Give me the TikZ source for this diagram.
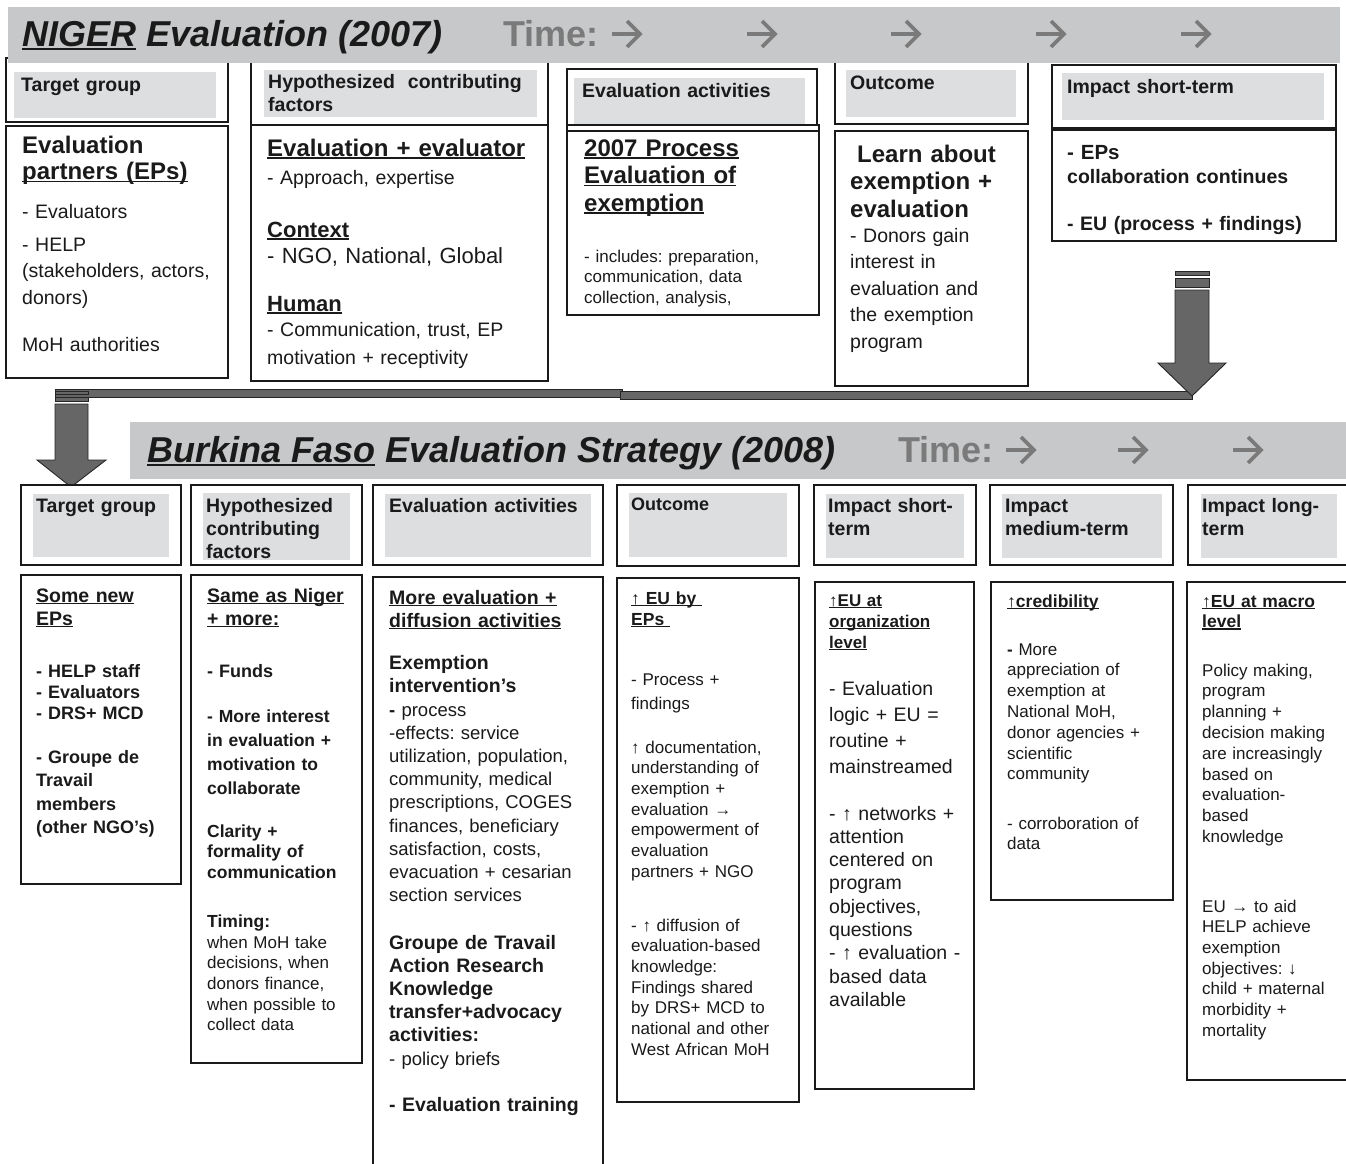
\documentclass[tikz,border=0pt]{standalone}
\usepackage{fontspec}
\setmainfont{Liberation Sans}
\definecolor{bannergray}{RGB}{199,200,201}
\definecolor{hdrgray}{RGB}{221,222,224}
\definecolor{timegray}{RGB}{122,122,122}
\definecolor{arrowfill}{RGB}{102,102,102}
\definecolor{ink}{RGB}{26,26,26}
\newsavebox\ulbox
\newcommand\ulx[1]{\leavevmode\sbox\ulbox{#1}\rlap{\rule[-0.12em]{\wd\ulbox}{0.075em}}\usebox\ulbox}
\newcommand\fsz[2]{\fontsize{#1}{#2}\selectfont}
\frenchspacing
\begin{document}
\begin{tikzpicture}[x=1pt,y=-1pt,
  txt/.style={anchor=base west, inner sep=0pt, text width=330pt, align=left, text=ink},
  box/.style={draw=ink, line width=1.4pt, fill=white},
  hgray/.style={fill=hdrgray},
  banner/.style={fill=bannergray},
  title/.style={anchor=base west, inner sep=0pt, text=ink, font=\fsz{36}{40}\bfseries\itshape},
  timetxt/.style={anchor=base west, inner sep=0pt, text=timegray, font=\fsz{36}{40}\bfseries},
  timearrow/.style={draw=timegray, line width=3.8pt, line join=miter, line cap=butt},
  blockarrow/.style={fill=arrowfill, draw=black!85, line width=0.9pt, line join=miter},
  hdr/.style={txt, font=\fsz{19.5}{23}\bfseries},
]
\useasboundingbox[fill=white] (0,0) rectangle (1346,1163);

% ---------------- NIGER: header boxes ----------------
\draw[box] (6,58) rectangle (228,122);      \fill[hgray] (14,72) rectangle (216,118);
\draw[box] (251,58) rectangle (548,125);    \fill[hgray] (264,70) rectangle (537,117);
\draw[box] (567,69) rectangle (817,131);    \fill[hgray] (574,78) rectangle (805,125);
\draw[box] (835,58) rectangle (1028,124);   \fill[hgray] (846,70) rectangle (1016,117);
\draw[box] (1052,65) rectangle (1336,128);  \fill[hgray] (1062,73) rectangle (1324,120);

% NIGER: body boxes
\draw[box] (6,126) rectangle (228,378);
\draw[box] (251,125) rectangle (548,381);
\draw[box] (567,125) rectangle (819,315);
\draw[ink, line width=1.4pt] (567,131) -- (819,131);
\draw[box] (835,131) rectangle (1028,386);
\draw[box] (1052,130) rectangle (1336,241);

% NIGER banner
\fill[banner] (8,7) rectangle (1340,63);
\node[title] (ntitle) at (22,46) {\ulx{NIGER} Evaluation (2007)};
\node[timetxt] (ntime) at (503,46) {Time:};
% time arrows (open chevron heads)
\foreach \cx in {626,761,905,1050,1195}{
  \draw[timearrow] (\cx-14,34) -- (\cx+13,34);
  \draw[timearrow] (\cx+1,21) -- (\cx+14,34) -- (\cx+1,47);
}

% NIGER header texts
\node[hdr] (nh1) at (21,91) {Target group};
\node[hdr] (nh2) at (268,88) {Hypothesized\ \ contributing\\factors};
\node[hdr] (nh3) at (582,97) {Evaluation activities};
\node[hdr] (nh4) at (850,89) {Outcome};
\node[hdr] (nh5) at (1067,93) {Impact short-term};

% NIGER body texts
\node[txt, font=\fsz{24}{26.5}\bfseries] (n1a) at (22,153) {Evaluation\\\ulx{partners (EPs)}};
\node[txt, font=\fsz{19.5}{26.5}] (n1b) at (22,218) {- Evaluators};
\node[txt, font=\fsz{19.5}{26.5}] (n1c) at (22,251) {- HELP\\(stakeholders, actors,\\donors)};
\node[txt, font=\fsz{19.5}{26.5}] (n1d) at (22,351) {MoH authorities};

\node[txt, font=\fsz{24}{26}\bfseries] (n2a) at (267,156) {\ulx{Evaluation + evaluator}};
\node[txt, font=\fsz{19.5}{26}] (n2b) at (267,184) {- Approach, expertise};
\node[txt, font=\fsz{22}{26}\bfseries] (n2c) at (267,237) {\ulx{Context}};
\node[txt, font=\fsz{22}{26}] (n2d) at (267,263) {- NGO, National, Global};
\node[txt, font=\fsz{22}{26}\bfseries] (n2e) at (267,311) {\ulx{Human}};
\node[txt, font=\fsz{19.5}{28}] (n2f) at (267,336) {- Communication, trust, EP\\motivation + receptivity};

\node[txt, font=\fsz{24}{27.5}\bfseries] (n3a) at (584,156) {\ulx{2007 Process}\\\ulx{Evaluation of}\\\ulx{exemption}};
\node[txt, font=\fsz{17}{20.5}] (n3b) at (584,262) {- includes: preparation,\\communication, data\\collection, analysis,};

\node[txt, font=\fsz{24}{27.5}\bfseries] (n4a) at (850,162) {\hspace{7pt}Learn about\\exemption +\\evaluation};
\node[txt, font=\fsz{19.5}{26.5}] (n4b) at (850,242) {- Donors gain\\interest in\\evaluation and\\the exemption\\program};

\node[txt, font=\fsz{20.5}{24}\bfseries] (n5a) at (1067,159) {- EPs};
\node[txt, font=\fsz{19.5}{24}\bfseries] (n5b) at (1067,183) {collaboration continues};
\node[txt, font=\fsz{19.5}{24}\bfseries] (n5c) at (1067,230) {- EU (process + findings)};

% ---------------- transfer block arrows ----------------
\fill[blockarrow] (55,389) rectangle (622,397);
\fill[blockarrow] (620,391) rectangle (1192,399);
\fill[blockarrow] (1175,271) rectangle (1209,275);
\fill[blockarrow] (1175,278) rectangle (1209,287);
\fill[blockarrow] (1175,290) -- (1209,290) -- (1209,363) -- (1226,363) -- (1192,396)
  -- (1158,363) -- (1175,363) -- cycle;
\fill[blockarrow] (55,391) rectangle (88,394);
\fill[blockarrow] (55,397) rectangle (88,401);
\fill[blockarrow] (55,404) -- (88,404) -- (88,460) -- (106,460) -- (71,487)
  -- (37,460) -- (55,460) -- cycle;

% ---------------- BURKINA FASO banner ----------------
\fill[banner] (130,422) rectangle (1350,479);
\node[title] (btitle) at (147,462) {\ulx{Burkina Faso} Evaluation Strategy (2008)};
\node[timetxt] (btime) at (898,462) {Time:};
\foreach \cx in {1020,1132,1247}{
  \draw[timearrow] (\cx-14,450) -- (\cx+13,450);
  \draw[timearrow] (\cx+1,437) -- (\cx+14,450) -- (\cx+1,463);
}

% BURKINA header boxes
\draw[box] (21,485) rectangle (181,565);    \fill[hgray] (33,494) rectangle (169,557);
\draw[box] (191,485) rectangle (362,565);   \fill[hgray] (203,493) rectangle (350,560);
\draw[box] (373,485) rectangle (603,565);   \fill[hgray] (385,494) rectangle (591,557);
\draw[box] (617,485) rectangle (799,566);   \fill[hgray] (629,493) rectangle (787,557);
\draw[box] (814,485) rectangle (976,565);   \fill[hgray] (826,494) rectangle (964,558);
\draw[box] (990,485) rectangle (1173,565);  \fill[hgray] (1002,494) rectangle (1162,558);
\draw[box] (1188,485) rectangle (1352,565); \fill[hgray] (1201,494) rectangle (1337,558);

\node[hdr] (bh1) at (36,512) {Target group};
\node[hdr] (bh2) at (206,512) {Hypothesized\\contributing\\factors};
\node[hdr] (bh3) at (389,512) {Evaluation activities};
\node[hdr, font=\fsz{18}{23}\bfseries] (bh4) at (631,510) {Outcome};
\node[hdr] (bh5) at (828,512) {Impact short-\\term};
\node[hdr] (bh6) at (1005,512) {Impact\\medium-term};
\node[hdr] (bh7) at (1202,512) {Impact long-\\term};

% BURKINA body boxes
\draw[box] (21,575) rectangle (181,884);
\draw[box] (191,575) rectangle (362,1063);
\draw[box] (373,577) rectangle (603,1170);
\draw[box] (617,578) rectangle (799,1102);
\draw[box] (815,582) rectangle (974,1089);
\draw[box] (991,582) rectangle (1173,900);
\draw[box] (1187,582) rectangle (1352,1080);

% BURKINA body texts
\node[txt, font=\fsz{19.5}{23}\bfseries] (b1a) at (36,602) {\ulx{Some new}\\\ulx{EPs}};
\node[txt, font=\fsz{18}{21}\bfseries] (b1b) at (36,677) {- HELP staff\\- Evaluators\\- DRS+ MCD};
\node[txt, font=\fsz{18}{23.5}\bfseries] (b1c) at (36,763) {- Groupe de\\Travail\\members\\(other NGO’s)};

\node[txt, font=\fsz{19.5}{23}\bfseries] (b2a) at (207,602) {\ulx{Same as Niger}\\\ulx{+ more:}};
\node[txt, font=\fsz{18}{23}\bfseries] (b2b) at (207,677) {- Funds};
\node[txt, font=\fsz{17.5}{24}\bfseries] (b2c) at (207,722) {- More interest\\in evaluation +\\motivation to\\collaborate};
\node[txt, font=\fsz{17.5}{20.5}\bfseries] (b2d) at (207,837) {Clarity +\\formality of\\communication};
\node[txt, font=\fsz{17.5}{21}\bfseries] (b2e) at (207,927) {Timing:};
\node[txt, font=\fsz{17}{20.7}] (b2f) at (207,948) {when MoH take\\decisions, when\\donors finance,\\when possible to\\collect data};

\node[txt, font=\fsz{19.5}{23}\bfseries] (b3a) at (389,604) {\ulx{More evaluation +}\\\ulx{diffusion activities}};
\node[txt, font=\fsz{19.5}{23}\bfseries] (b3b) at (389,669) {Exemption\\intervention’s};
\node[txt, font=\fsz{18.5}{23.2}] (b3c) at (389,716) {\textbf{-} process\\-effects: service\\utilization, population,\\community, medical\\prescriptions, COGES\\finances, beneficiary\\satisfaction, costs,\\evacuation + cesarian\\section services};
\node[txt, font=\fsz{19.5}{23}\bfseries] (b3d) at (389,949) {Groupe de Travail\\Action Research\\Knowledge\\transfer+advocacy\\activities:};
\node[txt, font=\fsz{18.5}{23}] (b3e) at (389,1065) {- policy briefs};
\node[txt, font=\fsz{19.5}{23}\bfseries] (b3f) at (389,1111) {- Evaluation training};

\node[txt, font=\fsz{17.5}{21}\bfseries] (b4a) at (631,604) {\ulx{↑ EU by }\\\ulx{EPs }};
\node[txt, font=\fsz{17}{24}] (b4b) at (631,685) {- Process +\\findings};
\node[txt, font=\fsz{17}{20.7}] (b4c) at (631,753) {↑ documentation,\\understanding of\\exemption +\\evaluation →\\empowerment of\\evaluation\\partners + NGO};
\node[txt, font=\fsz{17}{20.7}] (b4d) at (631,931) {- ↑ diffusion of\\evaluation-based\\knowledge:\\Findings shared\\by DRS+ MCD to\\national and other\\West African MoH};

\node[txt, font=\fsz{17}{21}\bfseries] (b5a) at (829,606) {\ulx{↑EU at}\\\ulx{organization}\\\ulx{level}};
\node[txt, font=\fsz{19.5}{26.3}] (b5b) at (829,695) {- Evaluation\\logic + EU =\\routine +\\mainstreamed};
\node[txt, font=\fsz{19.5}{23.3}] (b5c) at (829,820) {- ↑ networks +\\attention\\centered on\\program\\objectives,\\questions\\- ↑ evaluation -\\based data\\available};

\node[txt, font=\fsz{17.5}{21}\bfseries] (b6a) at (1007,607) {\ulx{↑credibility}};
\node[txt, font=\fsz{17}{20.8}] (b6b) at (1007,655) {\textbf{-} More\\appreciation of\\exemption at\\National MoH,\\donor agencies +\\scientific\\community};
\node[txt, font=\fsz{17}{20.5}] (b6c) at (1007,829) {- corroboration of\\data};

\node[txt, font=\fsz{17.5}{20.5}\bfseries] (b7a) at (1202,607) {\ulx{↑EU at macro}\\\ulx{level}};
\node[txt, font=\fsz{17}{20.8}] (b7b) at (1202,676) {Policy making,\\program\\planning +\\decision making\\are increasingly\\based on\\evaluation-\\based\\knowledge};
\node[txt, font=\fsz{17}{20.7}] (b7c) at (1202,912) {EU → to aid\\HELP achieve\\exemption\\objectives: ↓\\child + maternal\\morbidity +\\mortality};
\end{tikzpicture}
\end{document}
